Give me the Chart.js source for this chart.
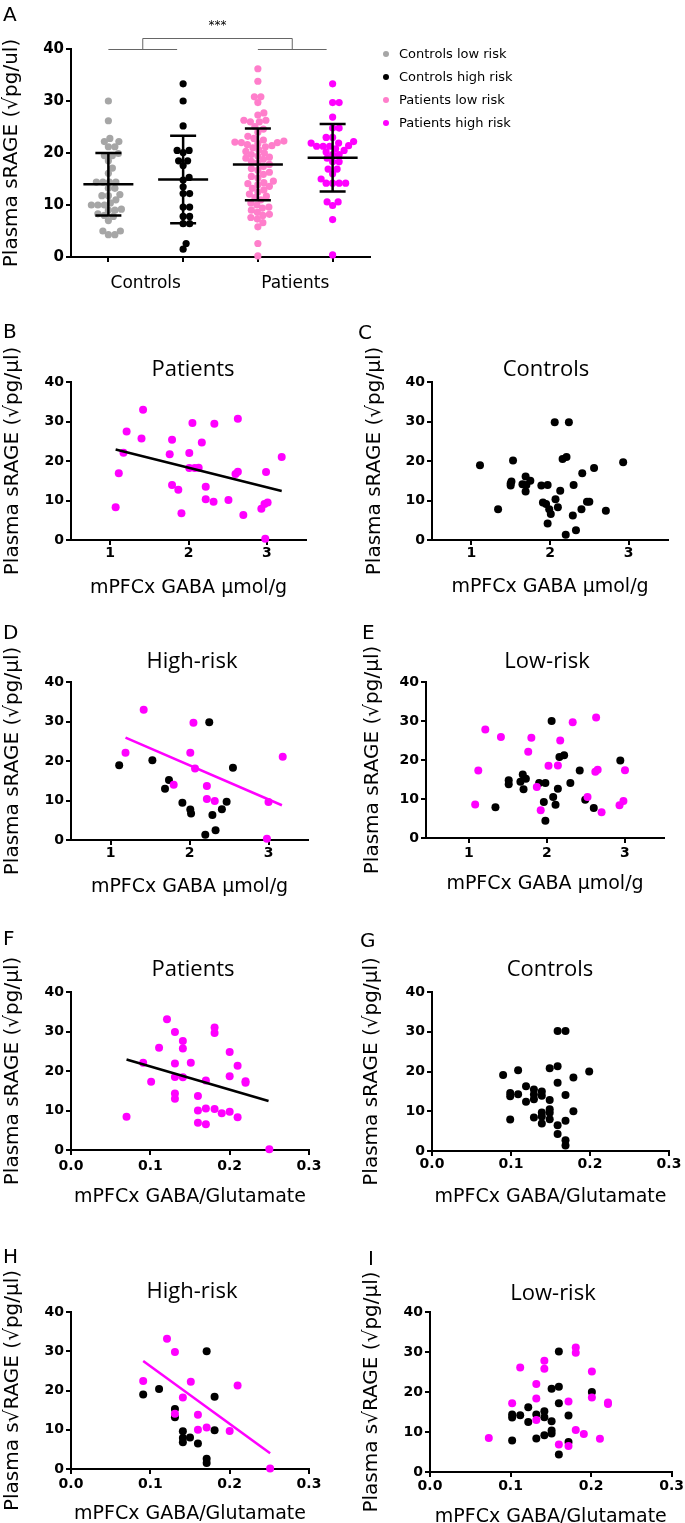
<!DOCTYPE html>
<html>
<head>
<meta charset="utf-8">
<script src="https://cdn.jsdelivr.net/npm/chart.js@4/dist/chart.umd.min.js"></script>
<style>
html, body { margin: 0; padding: 0; background: #fff; overflow: hidden; }
body { position: relative; width: 685px; height: 1523px; }
canvas { position: absolute; }
</style>
</head>
<body>
<canvas id="pa" width="685" height="300" style="left:0;top:0"></canvas>
<canvas id="pb" width="340" height="330" style="left:0;top:300px"></canvas>
<canvas id="pc" width="345" height="330" style="left:340px;top:300px"></canvas>
<canvas id="pd" width="340" height="330" style="left:0;top:600px"></canvas>
<canvas id="pe" width="345" height="330" style="left:340px;top:600px"></canvas>
<canvas id="pf" width="340" height="330" style="left:0;top:900px"></canvas>
<canvas id="pg" width="345" height="330" style="left:340px;top:900px"></canvas>
<canvas id="ph" width="340" height="330" style="left:0;top:1205px"></canvas>
<canvas id="pi" width="345" height="330" style="left:340px;top:1205px"></canvas>
<script>
// ticks
const yTicks = [0, 10, 20, 30, 40];
const gabaTicks = [1, 2, 3];
const ratioTicks = [0.0, 0.1, 0.2, 0.3];

// panel A
const groups = ["Controls", "Patients"];
const seriesA = ["Controls low risk", "Controls high risk", "Patients low risk", "Patients high risk"];
const controlsLow = [30.0, 26.2, 22.8, 22.2, 22.2, 21.2, 21.2, 19.9, 19.5, 19.5, 18.5, 17.1, 16.1, 14.4, 14.4, 14.4, 14.4, 13.2, 13.2, 12.0, 11.8, 11.8, 11.0, 10.4, 10.0, 10.0, 10.0, 9.2, 9.0, 9.0, 8.3, 8.0, 7.8, 7.0, 5.0, 5.0, 4.3, 4.3];
const controlsHigh = [33.3, 30.0, 25.2, 20.5, 20.5, 20.1, 18.5, 18.5, 17.6, 15.3, 14.8, 13.5, 12.2, 12.2, 9.6, 9.6, 7.8, 7.8, 6.4, 6.4, 2.6, 1.5];
const patientsLow = [36.2, 33.8, 30.8, 30.8, 29.7, 27.7, 27.3, 26.3, 26.0, 26.0, 26.3, 25.1, 24.6, 24.0,
    23.2, 22.8, 22.5, 22.3, 22.1, 22.0, 22.0, 21.8, 21.6, 21.4, 21.2, 21.0,
    20.6, 20.3, 20.0, 19.7, 19.4, 19.2, 19.0, 18.8, 18.4, 18.1, 17.8, 17.4, 17.0, 16.7,
    16.3, 15.9, 15.5, 15.2, 14.6, 14.3, 14.1, 13.9, 13.6, 13.2, 12.9,
    12.5, 12.1, 11.7, 11.4, 11.0, 10.4, 10.0, 9.6, 9.4, 9.0,
    8.6, 8.2, 8.0, 7.6, 7.3, 6.6, 5.8, 2.6, 0.2];
const patientsHigh = [33.3, 29.7, 29.7, 26.9, 24.8, 24.8, 23.0, 23.0, 22.2, 21.9, 21.9, 21.4, 21.3, 21.3, 21.3, 20.8, 20.5, 20.2,
    19.7, 19.7, 19.0, 18.3, 18.3, 16.9, 16.9, 16.0, 15.0, 14.2, 14.2, 14.2, 14.2, 10.6, 10.6, 9.9, 7.2, 0.4];
const meansA = [14.0, 14.9, 17.8, 19.1];
const sdA = [6.0, 8.4, 6.9, 6.5];

// panels B-E: mPFCx GABA (umol/g) vs plasma sRAGE
const bPatients = [[1.07, 8.3], [1.11, 16.9], [1.17, 22.1], [1.21, 27.5], [1.40, 25.7], [1.42, 33.0], [1.76, 21.7], [1.79, 25.4],
    [1.79, 13.9], [1.87, 12.7], [1.91, 6.8], [2.01, 22.0], [2.01, 18.2], [2.05, 29.6], [2.08, 18.2], [2.13, 18.3], [2.17, 24.7],
    [2.22, 13.5], [2.22, 10.3], [2.32, 9.7], [2.33, 29.4], [2.51, 10.1], [2.60, 16.7], [2.63, 17.3], [2.63, 30.7], [2.70, 6.3],
    [2.93, 7.9], [2.97, 9.1], [3.01, 9.5], [2.99, 17.2], [2.98, 0.3], [3.19, 21.0]];
const bFit = [[1.07, 22.9], [3.19, 12.4]];
const cControls = [[1.11, 18.9], [1.34, 7.8], [1.50, 14.3], [1.50, 13.8], [1.51, 14.8], [1.53, 20.1], [1.65, 14.1], [1.69, 16.1],
    [1.69, 12.3], [1.70, 13.9], [1.75, 15.0], [1.89, 13.8], [1.97, 13.9], [1.91, 9.5], [1.95, 9.1], [1.99, 7.8], [2.01, 6.6],
    [1.97, 4.2], [2.07, 10.3], [2.10, 8.3], [2.13, 12.5], [2.06, 29.8], [2.24, 29.8], [2.16, 20.5], [2.21, 21.0], [2.30, 13.9],
    [2.29, 6.2], [2.33, 2.5], [2.20, 1.3], [2.40, 7.8], [2.41, 16.9], [2.47, 9.7], [2.50, 9.7], [2.56, 18.2], [2.71, 7.4], [2.93, 19.7]];
const dPatients = [[1.42, 33.0], [1.19, 22.1], [2.01, 22.1], [2.05, 29.7], [2.07, 18.1], [1.80, 14.0], [2.22, 13.7], [2.22, 10.4],
    [2.32, 9.9], [3.00, 9.6], [2.98, 0.3], [3.18, 21.1]];
const dControls = [[1.11, 18.9], [1.53, 20.2], [1.74, 15.2], [1.69, 13.0], [1.91, 9.4], [2.01, 7.7], [2.02, 6.7], [2.25, 29.8],
    [2.55, 18.3], [2.29, 6.3], [2.33, 2.5], [2.20, 1.3], [2.41, 7.8], [2.47, 9.7]];
const dFit = [[1.19, 25.9], [3.17, 8.8]];
const ePatients = [[1.08, 8.6], [1.12, 17.3], [1.21, 27.8], [1.41, 25.9], [1.80, 25.7], [1.76, 22.1], [1.87, 13.1], [1.92, 7.1],
    [2.02, 18.5], [2.14, 18.6], [2.17, 25.0], [2.33, 29.7], [2.52, 10.5], [2.63, 30.9], [2.62, 17.0], [2.65, 17.5], [2.70, 6.6],
    [2.93, 8.4], [2.98, 9.5], [3.00, 17.4]];
const eControls = [[1.34, 7.9], [1.51, 14.8], [1.51, 13.8], [1.66, 14.4], [1.69, 16.3], [1.73, 15.2], [1.70, 12.5], [1.90, 14.1],
    [1.98, 14.1], [1.96, 9.2], [1.98, 4.4], [2.06, 30.0], [2.08, 10.5], [2.11, 8.5], [2.14, 12.6], [2.16, 20.8], [2.22, 21.2],
    [2.30, 14.1], [2.42, 17.3], [2.49, 9.8], [2.60, 7.7], [2.94, 19.9]];

// panels F-I: mPFCx GABA/Glutamate vs plasma sRAGE
const fPatients = [[0.070, 8.4], [0.091, 22.1], [0.101, 17.3], [0.111, 25.9], [0.121, 33.1], [0.131, 29.9], [0.131, 21.9],
    [0.131, 18.5], [0.131, 14.3], [0.131, 13.0], [0.141, 27.6], [0.141, 25.7], [0.141, 18.4], [0.151, 22.1], [0.160, 13.7],
    [0.160, 10.0], [0.160, 6.9], [0.170, 17.6], [0.170, 10.5], [0.170, 6.5], [0.181, 31.0], [0.181, 29.6], [0.181, 10.4],
    [0.190, 9.3], [0.200, 24.8], [0.200, 18.7], [0.200, 9.7], [0.210, 21.3], [0.210, 8.3], [0.220, 17.4], [0.220, 17.0], [0.250, 0.2]];
const fFit = [[0.070, 22.9], [0.249, 12.4]];
const gControls = [[0.090, 19.1], [0.099, 14.6], [0.099, 13.8], [0.099, 7.9], [0.109, 20.3], [0.109, 14.3], [0.119, 16.3],
    [0.119, 12.4], [0.129, 15.5], [0.129, 14.2], [0.129, 13.0], [0.129, 8.4], [0.139, 15.0], [0.139, 13.9], [0.139, 9.7],
    [0.139, 8.7], [0.139, 6.9], [0.149, 20.8], [0.149, 12.8], [0.149, 10.5], [0.149, 9.6], [0.149, 8.0], [0.159, 30.2],
    [0.159, 21.3], [0.159, 17.2], [0.159, 6.5], [0.159, 4.3], [0.169, 30.2], [0.169, 14.1], [0.169, 7.6], [0.169, 2.7],
    [0.169, 1.4], [0.179, 18.5], [0.179, 10.0], [0.199, 20.0]];
const hPatients = [[0.091, 22.4], [0.121, 33.2], [0.131, 29.8], [0.151, 22.2], [0.141, 18.2], [0.131, 14.1], [0.160, 13.8],
    [0.160, 10.0], [0.171, 10.6], [0.200, 9.7], [0.210, 21.3], [0.251, 0.1]];
const hControls = [[0.091, 19.0], [0.111, 20.4], [0.131, 15.3], [0.131, 13.2], [0.141, 9.6], [0.141, 7.9], [0.141, 6.8],
    [0.150, 8.0], [0.171, 30.0], [0.160, 6.5], [0.181, 18.4], [0.181, 9.9], [0.171, 2.6], [0.171, 1.5]];
const hFit = [[0.091, 27.5], [0.251, 4.0]];
const iPatients = [[0.073, 8.5], [0.102, 17.2], [0.112, 26.1], [0.132, 22.0], [0.132, 18.4], [0.132, 13.0], [0.142, 27.8],
    [0.142, 25.8], [0.160, 6.9], [0.172, 17.6], [0.172, 6.5], [0.181, 31.1], [0.181, 29.8], [0.181, 10.5], [0.191, 9.5],
    [0.201, 25.1], [0.201, 18.6], [0.211, 8.3], [0.221, 17.4], [0.221, 17.0]];
const iControls = [[0.102, 14.4], [0.102, 13.6], [0.102, 7.9], [0.112, 14.2], [0.122, 16.2], [0.122, 12.5], [0.132, 14.4],
    [0.132, 8.4], [0.142, 15.2], [0.142, 13.7], [0.142, 9.2], [0.151, 20.8], [0.151, 12.7], [0.151, 10.4], [0.151, 9.6],
    [0.160, 30.1], [0.160, 21.3], [0.160, 17.2], [0.160, 4.4], [0.172, 14.1], [0.172, 7.5], [0.201, 20.0]];

const GREY = "#a6a6a6", BLACK = "#000000", PINK = "#ff7ecb", MAGENTA = "#ff00ff";
const colorsA = [GREY, BLACK, PINK, MAGENTA];

const FAMILY = "'DejaVu Sans', sans-serif";
const tickFont = { family: FAMILY, size: 14, weight: "bold" };
const yTitleFont = { family: FAMILY, size: 20 };
const xTitleFont = { family: FAMILY, size: 19 };
const yTitleSRAGE = "Plasma sRAGE (√pg/μl)";
const yTitleTypo = "Plasma s√RAGE (√pg/μl)";
const xTitleGaba = "mPFCx GABA μmol/g";
const xTitleRatio = "mPFCx GABA/Glutamate";

function axisStyle() {
    return {
        grid: { display: true, drawOnChartArea: false, drawTicks: true, tickLength: 5, tickWidth: 2, tickColor: "#000", color: "#000", lineWidth: 2 },
        border: { display: true, color: "#000", width: 2 },
    };
}

// letters and panel titles
const panelText = {
    id: "panelText",
    afterDraw(chart, args, opts) {
        const ctx = chart.ctx;
        ctx.save();
        ctx.fillStyle = "#000";
        ctx.textBaseline = "alphabetic";
        if (opts.letter) {
            ctx.font = "20px 'DejaVu Sans'";
            ctx.textAlign = "left";
            ctx.fillText(opts.letter, opts.letterX, opts.letterY);
        }
        if (opts.title) {
            ctx.font = "22px 'Open Sans'";
            ctx.textAlign = "center";
            ctx.fillText(opts.title, opts.titleX, opts.titleY);
        }
        ctx.restore();
    },
};

function makePanel(id, p) {
    const canvas = document.getElementById(id);
    const W = canvas.width, H = canvas.height;
    const [L, T, R, B] = p.area;
    const datasets = [];
    (p.fits || []).forEach(f => datasets.push({
        type: "line",
        data: f.data.map(([x, y]) => ({ x, y })),
        borderColor: f.color,
        borderWidth: 2.5,
        pointRadius: 0,
        showLine: true,
        fill: false,
        clip: false,
    }));
    p.series.forEach(s => datasets.push({
        data: s.data.map(([x, y]) => ({ x, y })),
        backgroundColor: s.color,
        borderColor: s.color,
        borderWidth: 0,
        pointRadius: 4,
        clip: false,
    }));
    new Chart(canvas, {
        type: "scatter",
        data: { datasets },
        options: {
            responsive: false,
            animation: false,
            layout: { padding: { left: 0, top: T, right: W - R, bottom: 0 } },
            plugins: {
                legend: { display: false },
                tooltip: { enabled: false },
                panelText: {
                    letter: p.letter, letterX: p.letterPos[0], letterY: p.letterPos[1],
                    title: p.title, titleX: p.titlePos[0], titleY: p.titlePos[1],
                },
            },
            scales: {
                x: {
                    type: "linear",
                    min: p.xMin,
                    max: p.xMax,
                    ...axisStyle(),
                    afterBuildTicks: s => { s.ticks = p.xTicks.map(v => ({ value: v })); },
                    afterFit: s => { s.height = H - B; },
                    ticks: { font: tickFont, color: "#000", padding: p.tickPad, callback: p.xFmt },
                    title: {
                        display: true, text: p.xTitle, font: xTitleFont, color: "#000",
                        padding: { top: 0, bottom: H - p.xTitleY - 11.4 },
                    },
                },
                y: {
                    min: 0,
                    max: 40,
                    ...axisStyle(),
                    afterBuildTicks: s => { s.ticks = yTicks.map(v => ({ value: v })); },
                    afterFit: s => { s.width = L; },
                    ticks: { font: tickFont, color: "#000", padding: 2 },
                    title: {
                        display: true, text: p.yTitle, font: yTitleFont, color: "#000",
                        padding: { top: p.yTitleX - 12, bottom: 0 },
                    },
                },
            },
        },
        plugins: [panelText],
    });
}

// simple beeswarm: x offsets (in px) so that dots do not overlap too much
function swarm(values, pxPerY, gap) {
    const order = values.map((v, i) => i).sort((a, b) => values[a] - values[b]);
    const placed = [];
    const off = new Array(values.length).fill(0);
    for (const i of order) {
        const py = values[i] * pxPerY;
        let best = 0;
        for (let k = 0; k < 400; k++) {
            const cand = (k % 2 ? 1 : -1) * Math.ceil(k / 2) * 0.5;
            if (placed.every(q => Math.hypot(q.x - cand, q.y - py) >= gap)) { best = cand; break; }
        }
        placed.push({ x: best, y: py });
        off[i] = best;
    }
    return off;
}

// ---------- panel A ----------
const groupMarks = {
    id: "groupMarks",
    afterDatasetsDraw(chart) {
        const { ctx, chartArea, scales: { x, y } } = chart;
        ctx.save();
        // mean +/- SD
        ctx.strokeStyle = "#000";
        ctx.lineWidth = 2.5;
        meansA.forEach((m, i) => {
            const cx = x.getPixelForValue(i + 1);
            const pm = y.getPixelForValue(m);
            const pt = y.getPixelForValue(m + sdA[i]);
            const pb = y.getPixelForValue(m - sdA[i]);
            ctx.beginPath();
            ctx.moveTo(cx - 25, pm); ctx.lineTo(cx + 25, pm);
            ctx.moveTo(cx, pt); ctx.lineTo(cx, pb);
            ctx.moveTo(cx - 13, pt); ctx.lineTo(cx + 13, pt);
            ctx.moveTo(cx - 13, pb); ctx.lineTo(cx + 13, pb);
            ctx.stroke();
        });
        // significance bracket
        ctx.strokeStyle = "#666";
        ctx.lineWidth = 1;
        const top = chartArea.top - 11;
        const mids = [];
        groups.forEach((g, k) => {
            const a = x.getPixelForValue(2 * k + 1);
            const b = x.getPixelForValue(2 * k + 2) - 6;
            mids.push((a + b) / 2);
            ctx.beginPath();
            ctx.moveTo(a, chartArea.top + 0.5); ctx.lineTo(b, chartArea.top + 0.5);
            ctx.stroke();
        });
        ctx.beginPath();
        ctx.moveTo(mids[0], chartArea.top); ctx.lineTo(mids[0], top + 0.5);
        ctx.lineTo(mids[1], top + 0.5); ctx.lineTo(mids[1], chartArea.top);
        ctx.stroke();
        ctx.fillStyle = "#000";
        ctx.font = "12px 'DejaVu Sans'";
        ctx.textAlign = "center";
        ctx.textBaseline = "middle";
        ctx.fillText("***", (mids[0] + mids[1]) / 2, chartArea.top - 23);
        // legend
        ctx.font = "13px 'DejaVu Sans'";
        ctx.textAlign = "left";
        chart.data.datasets.forEach((ds, i) => {
            const ly = 54 + i * 23;
            ctx.fillStyle = ds.backgroundColor;
            ctx.beginPath();
            ctx.arc(386, ly, 3, 0, Math.PI * 2);
            ctx.fill();
            ctx.fillStyle = "#000";
            ctx.fillText(ds.label, 399, ly + 1);
        });
        ctx.restore();
    },
};

(function () {
    const canvas = document.getElementById("pa");
    const H = canvas.height;
    const L = 71, T = 49, R = 370, B = 257;
    const pxPerUnitX = (R - L) / 4;
    const pxPerUnitY = (B - T) / 40;
    const datasets = [controlsLow, controlsHigh, patientsLow, patientsHigh].map((vals, i) => {
        const off = swarm(vals, pxPerUnitY, 6.3);
        return {
            label: seriesA[i],
            data: vals.map((v, j) => ({ x: i + 1 + off[j] / pxPerUnitX, y: v })),
            backgroundColor: colorsA[i],
            borderColor: colorsA[i],
            borderWidth: 0,
            pointRadius: 3.6,
            clip: false,
        };
    });
    new Chart(canvas, {
        type: "scatter",
        data: { datasets },
        options: {
            responsive: false,
            animation: false,
            layout: { padding: { left: 0, top: T, right: canvas.width - R, bottom: 0 } },
            plugins: {
                legend: { display: false },
                tooltip: { enabled: false },
                panelText: { letter: "A", letterX: 3, letterY: 21 },
            },
            scales: {
                x: {
                    type: "linear",
                    min: 0.5,
                    max: 4.5,
                    ...axisStyle(),
                    afterBuildTicks: s => { s.ticks = [1, 2, 3, 4].map(v => ({ value: v })); },
                    afterFit: s => { s.height = H - B; },
                    ticks: {
                        font: { family: FAMILY, size: 17 },
                        color: "#000",
                        padding: 11,
                        labelOffset: pxPerUnitX / 2,
                        callback: (v, i) => (i % 2 === 0 ? groups[i / 2] : ""),
                    },
                },
                y: {
                    min: 0,
                    max: 40,
                    ...axisStyle(),
                    afterBuildTicks: s => { s.ticks = yTicks.map(v => ({ value: v })); },
                    afterFit: s => { s.width = L; },
                    ticks: { font: { family: FAMILY, size: 15, weight: "bold" }, color: "#000", padding: 2 },
                    title: {
                        display: true, text: "Plasma sRAGE (√pg/ul)", font: yTitleFont, color: "#000",
                        padding: { top: 0, bottom: 0 },
                    },
                },
            },
        },
        plugins: [panelText, groupMarks],
    });
})();

// ---------- panels B-I ----------
const fmtGaba = v => String(v);
const fmtRatio = v => v.toFixed(1);

makePanel("pb", {
    area: [71, 82, 306, 240], xMin: 0.5, xMax: 3.5, xTicks: gabaTicks, xFmt: fmtGaba, tickPad: 0,
    xTitle: xTitleGaba, xTitleY: 288, yTitle: yTitleSRAGE, yTitleX: 12.5,
    letter: "B", letterPos: [3, 38], title: "Patients", titlePos: [193, 76],
    fits: [{ data: bFit, color: BLACK }],
    series: [{ data: bPatients, color: MAGENTA }],
});
makePanel("pc", {
    area: [92, 82, 328, 240], xMin: 0.5, xMax: 3.5, xTicks: gabaTicks, xFmt: fmtGaba, tickPad: 0,
    xTitle: xTitleGaba, xTitleY: 287, yTitle: yTitleSRAGE, yTitleX: 35,
    letter: "C", letterPos: [18, 39], title: "Controls", titlePos: [206, 76],
    series: [{ data: cControls, color: BLACK }],
});
makePanel("pd", {
    area: [71, 82, 308, 240], xMin: 0.5, xMax: 3.5, xTicks: gabaTicks, xFmt: fmtGaba, tickPad: 0,
    xTitle: xTitleGaba, xTitleY: 287, yTitle: yTitleSRAGE, yTitleX: 12.5,
    letter: "D", letterPos: [3, 39], title: "High-risk", titlePos: [192, 68],
    fits: [{ data: dFit, color: MAGENTA }],
    series: [{ data: dPatients, color: MAGENTA }, { data: dControls, color: BLACK }],
});
makePanel("pe", {
    area: [86, 82, 324, 238], xMin: 0.45, xMax: 3.5, xTicks: gabaTicks, xFmt: fmtGaba, tickPad: 2,
    xTitle: xTitleGaba, xTitleY: 284, yTitle: yTitleSRAGE, yTitleX: 33,
    letter: "E", letterPos: [22, 39], title: "Low-risk", titlePos: [207, 68],
    series: [{ data: ePatients, color: MAGENTA }, { data: eControls, color: BLACK }],
});
makePanel("pf", {
    area: [71, 92, 309, 250], xMin: 0, xMax: 0.3, xTicks: ratioTicks, xFmt: fmtRatio, tickPad: 3,
    xTitle: xTitleRatio, xTitleY: 297, yTitle: yTitleSRAGE, yTitleX: 12.5,
    letter: "F", letterPos: [3, 45], title: "Patients", titlePos: [193, 76],
    fits: [{ data: fFit, color: BLACK }],
    series: [{ data: fPatients, color: MAGENTA }],
});
makePanel("pg", {
    area: [92, 92, 329, 251], xMin: 0, xMax: 0.3, xTicks: ratioTicks, xFmt: fmtRatio, tickPad: 0,
    xTitle: xTitleRatio, xTitleY: 297, yTitle: yTitleSRAGE, yTitleX: 32,
    letter: "G", letterPos: [20, 47], title: "Controls", titlePos: [210, 76],
    series: [{ data: gControls, color: BLACK }],
});
makePanel("ph", {
    area: [71, 107, 309, 264], xMin: 0, xMax: 0.3, xTicks: ratioTicks, xFmt: fmtRatio, tickPad: 2,
    xTitle: xTitleRatio, xTitleY: 309, yTitle: yTitleTypo, yTitleX: 12.5,
    letter: "H", letterPos: [3, 58], title: "High-risk", titlePos: [192, 93],
    fits: [{ data: hFit, color: MAGENTA }],
    series: [{ data: hPatients, color: MAGENTA }, { data: hControls, color: BLACK }],
});
makePanel("pi", {
    area: [90, 107, 333, 267], xMin: 0, xMax: 0.3, xTicks: ratioTicks, xFmt: fmtRatio, tickPad: 1,
    xTitle: xTitleRatio, xTitleY: 312, yTitle: yTitleTypo, yTitleX: 32,
    letter: "I", letterPos: [28, 60], title: "Low-risk", titlePos: [213, 95],
    series: [{ data: iPatients, color: MAGENTA }, { data: iControls, color: BLACK }],
});
</script>
</body>
</html>
